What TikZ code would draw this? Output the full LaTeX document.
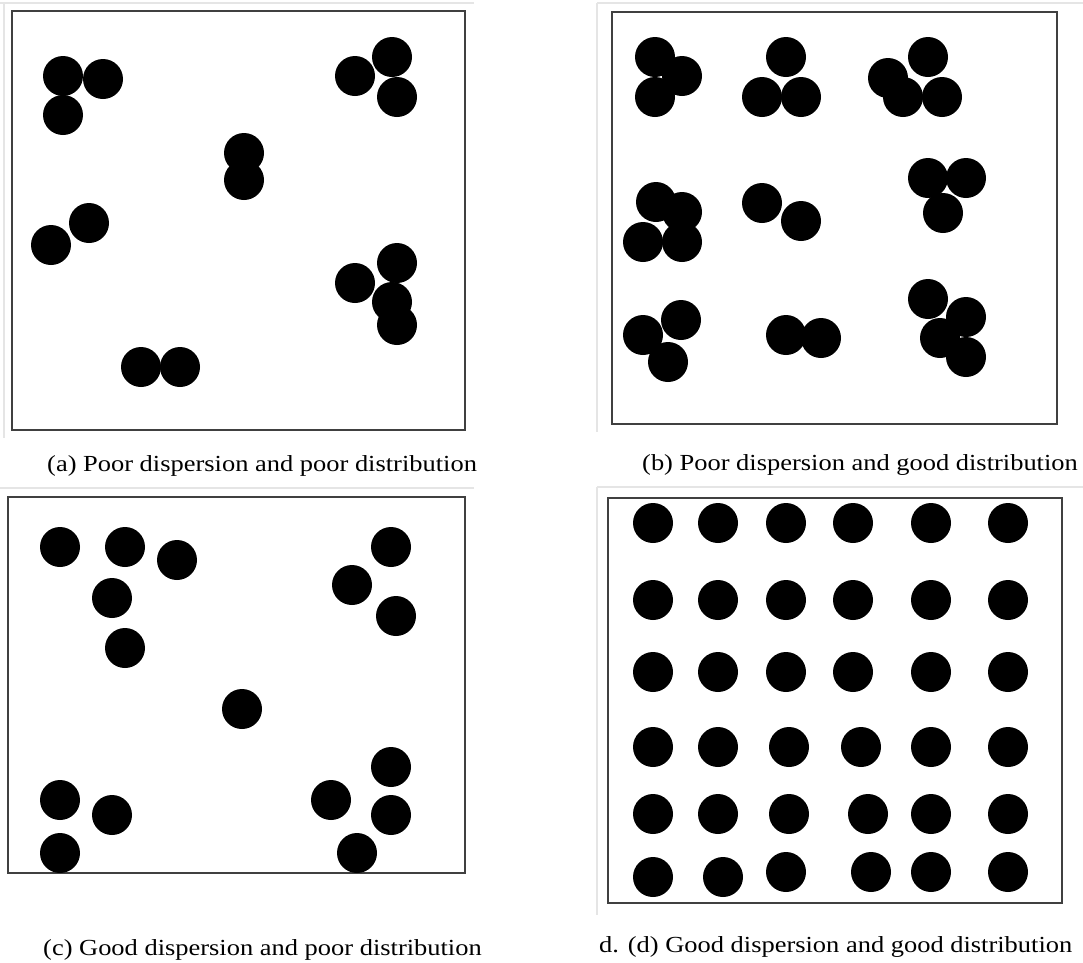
\documentclass[tikz,border=0pt]{standalone}
\usepackage{fontspec}
\usepackage{graphicx}
\setmainfont{Liberation Serif}
\usetikzlibrary{positioning}
\newcommand{\captext}[1]{\scalebox{1.15}[1]{#1}}

\begin{document}
\begin{tikzpicture}[x=1pt,y=-1pt,
  every node/.style={font=\fontsize{23}{26}\selectfont, inner sep=0pt},
  caption/.style={anchor=base west},
  frame/.style={draw=black!75, line width=1.6pt},
  edge/.style={draw=black!10, line width=1.2pt},
  particle/.style={fill=black}]
\useasboundingbox (0,0) rectangle (1083,962);
% faint scan edges
\draw[edge] (0,3) -- (474,3) (4,3) -- (4,438);
\draw[edge] (597,3) -- (1083,3) (597,3) -- (597,432);
\draw[edge] (0,488) -- (474,488);
\draw[edge] (597,487) -- (1083,487) (597,487) -- (597,915);
% frames
\draw[frame] (12,11) rectangle (465,430);
\draw[frame] (612,12) rectangle (1057,424);
\draw[frame] (8,497) rectangle (465,873);
\draw[frame] (608,498) rectangle (1062,903);
% (a) poor dispersion, poor distribution
\foreach \x/\y in {63/76,103/79,63/115,355/76,392/57,397/97,244/153,244/180,
  89/223,51/245,397/263,355/283,392/302,397/325,141/367,180/367}
  \fill[particle] (\x,\y) circle (20pt);
% (b) poor dispersion, good distribution
\foreach \x/\y in {655/57,682/76,655/97,786/57,762/97,801/97,928/57,888/78,903/97,942/97,
  656/202,682/212,643/242,682/242,762/203,801/221,928/178,966/178,943/213,
  681/320,643/335,668/362,786/335,821/338,928/299,966/317,940/338,966/357}
  \fill[particle] (\x,\y) circle (20pt);
% (c) good dispersion, poor distribution
\foreach \x/\y in {60/547,125/547,177/560,112/598,125/648,391/547,352/585,396/616,
  242/709,60/800,112/815,60/853,391/767,331/800,391/815,357/853}
  \fill[particle] (\x,\y) circle (20pt);
% (d) good dispersion, good distribution
\foreach \y in {523,600,672}
  \foreach \x in {653,718,786,853,931,1008}
    \fill[particle] (\x,\y) circle (20pt);
\foreach \x/\y in {653/747,718/747,789/747,861/747,931/747,1008/747,
  653/814,718/814,789/814,868/814,931/814,1008/814,
  653/877,723/877,786/872,871/872,931/872,1008/872}
  \fill[particle] (\x,\y) circle (20pt);
% captions
\node[caption] (capa) at (47,471) {\captext{(a) Poor dispersion and poor distribution}};
\node[caption] (capb) at (642,470) {\captext{(b) Poor dispersion and good distribution}};
\node[caption] (capc) at (43,955) {\captext{(c) Good dispersion and poor distribution}};
\node[caption] (capd) at (599,952) {\captext{d. (d) Good dispersion and good distribution}};
\end{tikzpicture}
\end{document}
